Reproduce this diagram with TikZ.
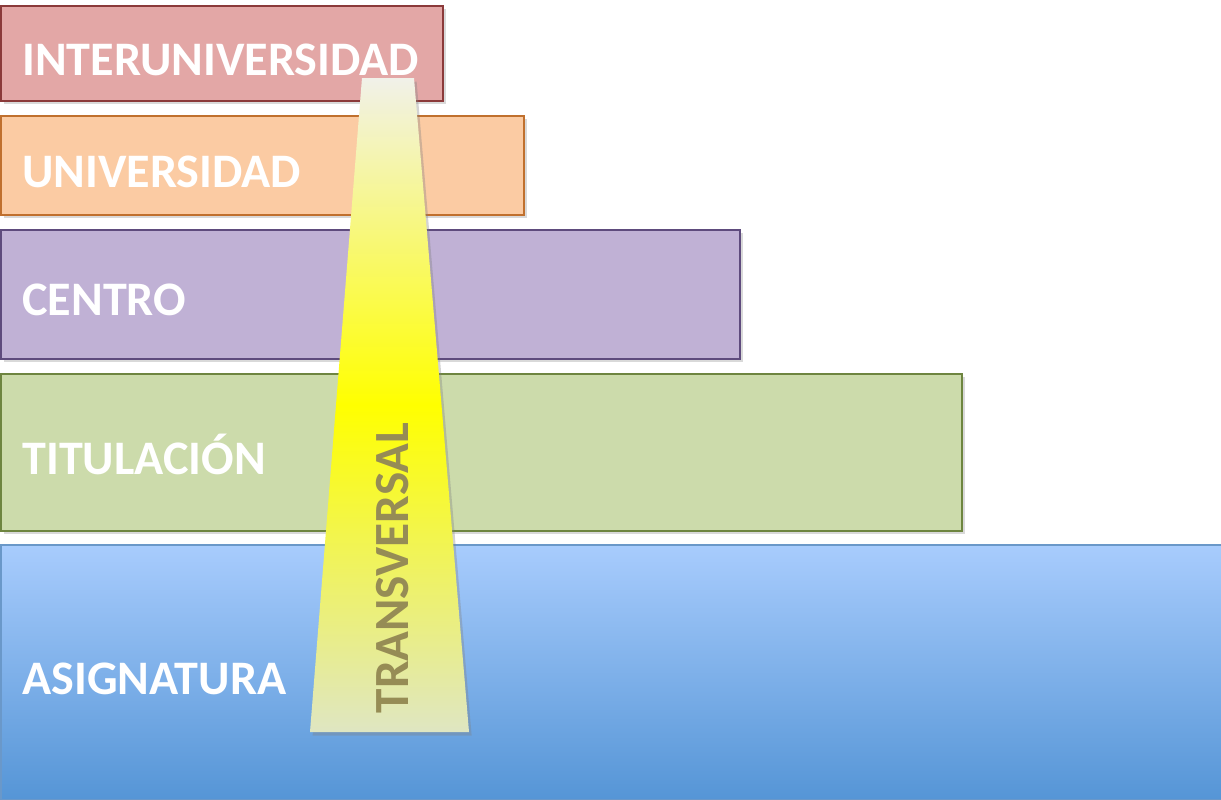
\documentclass[tikz,border=0pt]{standalone}
\usepackage{fontspec}
\setmainfont{Carlito}
\usepackage{xcolor}
\usetikzlibrary{shadows}

\definecolor{interFill}{HTML}{E3A7A6}
\definecolor{interLine}{HTML}{8B3A3A}
\definecolor{univFill}{HTML}{FBCBA3}
\definecolor{univLine}{HTML}{C0702E}
\definecolor{centroFill}{HTML}{C0B1D5}
\definecolor{centroLine}{HTML}{5E4B7D}
\definecolor{titulFill}{HTML}{CCDBAB}
\definecolor{titulLine}{HTML}{6E8540}
\definecolor{asigTop}{HTML}{A8CCFD}
\definecolor{asigBottom}{HTML}{5595D6}
\definecolor{asigLine}{HTML}{6A98C9}
\definecolor{transTop}{HTML}{F1F1E9}
\definecolor{transBottom}{HTML}{DFE6C2}
\definecolor{transText}{HTML}{968C55}

\begin{document}
\begin{tikzpicture}[
	%	style def
    x=0.02cm, y=-0.02cm,
    level box/.style={line width=1pt, drop shadow={shadow xshift=1.5pt, shadow yshift=-1.5pt, opacity=0.3}},
    level text/.style={anchor=base west, inner sep=0pt, text=white, font=\fontsize{27.4}{32}\selectfont\bfseries},
    every node/.style={color=black}
    ]
	\useasboundingbox (0,0) rectangle (1221,799);

	% level boxes, top to bottom
	\draw[level box, fill=interFill, draw=interLine] (1,6) rectangle (443,101);
	\draw[level box, fill=univFill, draw=univLine] (1,116) rectangle (524,215);
	\draw[level box, fill=centroFill, draw=centroLine] (1,230) rectangle (740,359);
	\draw[level box, fill=titulFill, draw=titulLine] (1,374) rectangle (962,531);
	\draw[level box, top color=asigTop, bottom color=asigBottom, draw=asigLine] (1,545) rectangle (1222,800);

	% level labels
	\node[level text] (inter) at (22,75) {INTERUNIVERSIDAD};
	\node[level text] (univ) at (22,187) {UNIVERSIDAD};
	\node[level text] (centro) at (22,315) {CENTRO};
	\node[level text] (titul) at (22,474) {TITULACIÓN};
	\node[level text] (asig) at (22,694) {ASIGNATURA};

	% transversal wedge
	\shade[top color=transTop, bottom color=transBottom, middle color=yellow,
	       drop shadow={shadow xshift=1.5pt, shadow yshift=-2pt, opacity=0.35}]
	    (362,78) coordinate (t1) -- (414,78) coordinate (t2) -- (469,732) coordinate (t3) -- (310,732) coordinate (t4) -- cycle;
	\node[rotate=90, inner sep=0pt, text=transText, font=\fontsize{28}{32}\selectfont\bfseries] (trans) at (393,568) {TRANSVERSAL};
\end{tikzpicture}
\end{document}
